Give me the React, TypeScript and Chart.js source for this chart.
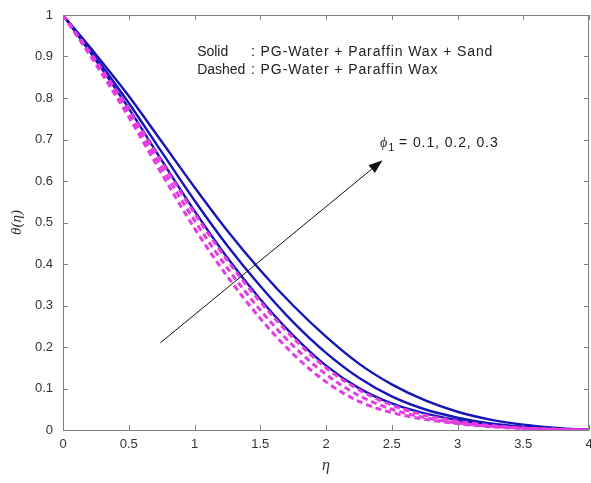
import React, { useEffect, useRef } from 'react';
import { Chart, registerables } from 'chart.js';

Chart.register(...registerables);

// eta grid
const etaValues = [0, 0.25, 0.5, 0.75, 1, 1.25, 1.5, 1.75, 2, 2.25, 2.5, 2.75, 3, 3.25, 3.5, 3.75, 4];

// Solid: PG-Water + Paraffin Wax + Sand
const solidPhi01 = [1, 0.891, 0.775, 0.65, 0.528, 0.415, 0.315, 0.228, 0.155, 0.101, 0.064, 0.04, 0.024, 0.013, 0.007, 0.003, 0];
const solidPhi02 = [1, 0.897, 0.788, 0.67, 0.553, 0.444, 0.347, 0.26, 0.186, 0.126, 0.081, 0.05, 0.03, 0.016, 0.008, 0.003, 0];
const solidPhi03 = [1, 0.905, 0.805, 0.695, 0.585, 0.48, 0.385, 0.3, 0.225, 0.16, 0.11, 0.072, 0.044, 0.025, 0.013, 0.005, 0];

// Dashed: PG-Water + Paraffin Wax
const dashedPhi01 = [1, 0.881, 0.754, 0.618, 0.486, 0.37, 0.269, 0.183, 0.116, 0.069, 0.042, 0.026, 0.015, 0.008, 0.0035, 0.001, 0];
const dashedPhi02 = [1, 0.886, 0.763, 0.632, 0.505, 0.39, 0.289, 0.203, 0.134, 0.083, 0.05, 0.03, 0.017, 0.009, 0.004, 0.0015, 0];
const dashedPhi03 = [1, 0.89, 0.772, 0.646, 0.522, 0.409, 0.309, 0.222, 0.15, 0.097, 0.06, 0.036, 0.021, 0.011, 0.005, 0.002, 0];

const xTicks = [0, 0.5, 1, 1.5, 2, 2.5, 3, 3.5, 4];
const xTickLabels = ['0', '0.5', '1', '1.5', '2', '2.5', '3', '3.5', '4'];
const yTicks = [0, 0.1, 0.2, 0.3, 0.4, 0.5, 0.6, 0.7, 0.8, 0.9, 1];
const yTickLabels = ['0', '0.1', '0.2', '0.3', '0.4', '0.5', '0.6', '0.7', '0.8', '0.9', '1'];

const SOLID_COLOR = '#1414b8';
const DASH_COLOR = '#e23ce2';
const TEXT_FONT = '"Liberation Sans", Arial, sans-serif';

const toPoints = (ys: number[]) => etaValues.map((x, i) => ({ x, y: ys[i] }));

const overlayPlugin = {
  id: 'overlay',
  afterDraw(chart: any) {
    const { ctx, chartArea: a, scales } = chart;
    const xs = scales.x;
    const ys = scales.y;
    ctx.save();
    // box
    ctx.strokeStyle = '#808080';
    ctx.lineWidth = 1;
    ctx.strokeRect(Math.round(a.left) + 0.5, Math.round(a.top) + 0.5, Math.round(a.right - a.left) - 1, Math.round(a.bottom - a.top));
    // inner ticks
    const tl = 5;
    ctx.beginPath();
    xTicks.forEach((v) => {
      const px = Math.round(xs.getPixelForValue(v)) + 0.5;
      ctx.moveTo(px, a.bottom);
      ctx.lineTo(px, a.bottom - tl);
      ctx.moveTo(px, a.top);
      ctx.lineTo(px, a.top + tl);
    });
    yTicks.forEach((v) => {
      const py = Math.round(ys.getPixelForValue(v)) + 0.5;
      ctx.moveTo(a.left, py);
      ctx.lineTo(a.left + tl, py);
      ctx.moveTo(a.right, py);
      ctx.lineTo(a.right - tl, py);
    });
    ctx.stroke();

    // legend texts
    ctx.fillStyle = '#222';
    ctx.font = `14px ${TEXT_FONT}`;
    ctx.textBaseline = 'middle';
    ctx.textAlign = 'left';
    const tx = xs.getPixelForValue(1.02);
    const cx = xs.getPixelForValue(1.43);
    const l1 = ys.getPixelForValue(0.911);
    const l2 = ys.getPixelForValue(0.867);
    (ctx as any).letterSpacing = '0px';
    ctx.fillText('Solid', tx, l1);
    ctx.fillText('Dashed', tx, l2);
    (ctx as any).letterSpacing = '0.9px';
    ctx.fillText(': PG-Water + Paraffin Wax + Sand', cx, l1);
    ctx.fillText(': PG-Water + Paraffin Wax', cx, l2);

    // phi label
    const px0 = xs.getPixelForValue(2.41);
    const py0 = ys.getPixelForValue(0.692);
    (ctx as any).letterSpacing = '0px';
    ctx.font = `italic 14px "Liberation Serif", serif`;
    ctx.fillText('\u03D5', px0, py0);
    let w = ctx.measureText('\u03D5').width;
    ctx.font = `11px ${TEXT_FONT}`;
    ctx.fillText('1', px0 + w + 1, py0 + 5);
    w += ctx.measureText('1').width + 1;
    ctx.font = `14px ${TEXT_FONT}`;
    (ctx as any).letterSpacing = '0.9px';
    ctx.fillText(' = 0.1, 0.2, 0.3', px0 + w, py0);
    (ctx as any).letterSpacing = '0px';

    // arrow
    const ax0 = xs.getPixelForValue(0.74);
    const ay0 = ys.getPixelForValue(0.21);
    const ax1 = xs.getPixelForValue(2.43);
    const ay1 = ys.getPixelForValue(0.65);
    const ang = Math.atan2(ay1 - ay0, ax1 - ax0);
    const hl = 14;
    const hw = 5;
    ctx.strokeStyle = '#111';
    ctx.lineWidth = 1;
    ctx.beginPath();
    ctx.moveTo(ax0, ay0);
    ctx.lineTo(ax1 - hl * Math.cos(ang), ay1 - hl * Math.sin(ang));
    ctx.stroke();
    ctx.fillStyle = '#111';
    ctx.beginPath();
    ctx.moveTo(ax1, ay1);
    ctx.lineTo(ax1 - hl * Math.cos(ang) + hw * Math.sin(ang), ay1 - hl * Math.sin(ang) - hw * Math.cos(ang));
    ctx.lineTo(ax1 - hl * Math.cos(ang) - hw * Math.sin(ang), ay1 - hl * Math.sin(ang) + hw * Math.cos(ang));
    ctx.closePath();
    ctx.fill();
    ctx.restore();
  },
};

export default function App() {
  const ref = useRef<HTMLCanvasElement | null>(null);
  useEffect(() => {
    document.body.style.margin = '0';
    if (!ref.current) return;
    const solid = (label: string, ys: number[]) => ({
      label,
      data: toPoints(ys),
      borderColor: SOLID_COLOR,
      borderWidth: 2.4,
      pointRadius: 0,
      fill: false,
      cubicInterpolationMode: 'monotone' as const,
    });
    const dashed = (label: string, ys: number[]) => ({
      label,
      data: toPoints(ys),
      borderColor: DASH_COLOR,
      borderWidth: 3,
      borderDash: [6, 4],
      pointRadius: 0,
      fill: false,
      cubicInterpolationMode: 'monotone' as const,
    });
    const chart = new Chart(ref.current, {
      type: 'line',
      data: {
        datasets: [
          dashed('Dashed φ1=0.1', dashedPhi01),
          dashed('Dashed φ1=0.2', dashedPhi02),
          dashed('Dashed φ1=0.3', dashedPhi03),
          solid('Solid φ1=0.1', solidPhi01),
          solid('Solid φ1=0.2', solidPhi02),
          solid('Solid φ1=0.3', solidPhi03),
        ],
      },
      options: {
        animation: false,
        responsive: false,
        layout: { padding: { left: 0, right: 2, top: 15, bottom: 0 } },
        plugins: { legend: { display: false }, tooltip: { enabled: false } },
        scales: {
          x: {
            type: 'linear',
            min: 0,
            max: 4,
            afterBuildTicks: (s: any) => { s.ticks = xTicks.map((v) => ({ value: v })); },
            afterFit: (s: any) => { s.height = 53; s.paddingLeft = 0; s.paddingRight = 0; },
            grid: { display: false, drawTicks: false },
            border: { display: false },
            ticks: {
              color: '#333',
              font: { family: TEXT_FONT, size: 13 },
              padding: 7,
              maxRotation: 0,
              callback: (_v: any, i: number) => xTickLabels[i],
            },
            title: { display: true, text: 'η', color: '#333', font: { family: '"Liberation Serif", serif', size: 16, style: 'italic' }, padding: { top: 2, bottom: 8 } },
          },
          y: {
            type: 'linear',
            min: 0,
            max: 1,
            afterBuildTicks: (s: any) => { s.ticks = yTicks.map((v) => ({ value: v })); },
            afterFit: (s: any) => { s.width = 63; s.paddingTop = 0; s.paddingBottom = 0; },
            grid: { display: false, drawTicks: false },
            border: { display: false },
            ticks: {
              color: '#333',
              font: { family: TEXT_FONT, size: 13 },
              padding: 10,
              callback: (_v: any, i: number) => yTickLabels[i],
            },
            title: { display: true, text: 'θ(η)', color: '#333', font: { family: '"Liberation Serif", serif', size: 15, style: 'italic' }, padding: { top: 8, bottom: 0 } },
          },
        },
      },
      plugins: [overlayPlugin],
    });
    return () => chart.destroy();
  }, []);
  return (
    <div style={{ width: 591, height: 483, background: '#fff' }}>
      <canvas ref={ref} width={591} height={483} style={{ display: 'block' }} />
    </div>
  );
}
